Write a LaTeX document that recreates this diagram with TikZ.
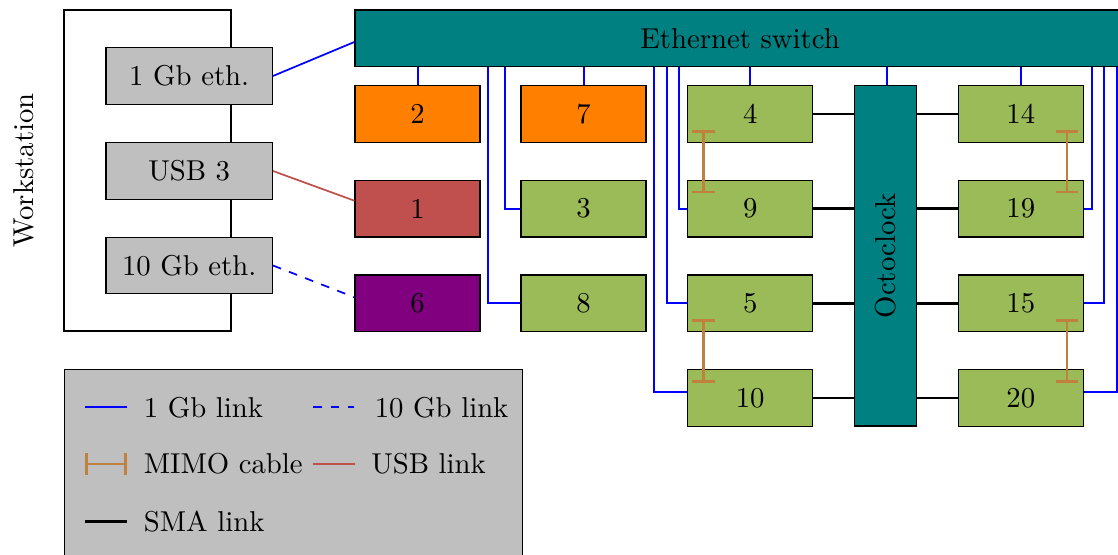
\documentclass[tikz,border=0pt]{standalone}
\usepackage{graphicx}
\usetikzlibrary{calc,arrows.meta}
\definecolor{devgreen}{RGB}{155,187,89}
\definecolor{usbred}{RGB}{192,80,77}
\definecolor{mimocol}{RGB}{192,128,64}
\definecolor{lgray}{RGB}{191,191,191}
\definecolor{devpurple}{RGB}{128,0,128}
\definecolor{devteal}{RGB}{0,128,128}
\definecolor{devorange}{RGB}{255,128,0}
\begin{document}
\begin{tikzpicture}[x=0.348pt,y=-0.348pt,
 box/.style={draw=black,line width=0.4pt,minimum width=43.5pt,minimum height=19.73pt,inner sep=0pt},
 dev/.style={box,fill=devgreen},
 port/.style={box,fill=lgray,minimum width=57.9pt},
 gb/.style={blue,line width=0.6pt},
 sma/.style={black,line width=0.9pt},
 usb/.style={usbred,line width=0.6pt},
 mimo/.style={mimocol,line width=0.9pt,{Bar[width=7.9pt]}-{Bar[width=7.9pt]}},
 legtext/.style={anchor=west,inner sep=0pt}
]
\useasboundingbox (0,0) rectangle (1118,555);
% workstation
\node[draw,line width=0.4pt,minimum width=58.1pt,minimum height=111.7pt,inner sep=0pt] (ws) at (147.5,170.5) {};
\node[rotate=90] (wslabel) at (24,170.5) {Workstation};
\node[port] (p1) at (189.2,76) {1 Gb eth.};
\node[port] (pu) at (189.2,171) {USB 3};
\node[port] (pt) at (189.2,265.5) {10 Gb eth.};
% switch
\node[box,fill=devteal,minimum width=268pt] (sw) at (740,38.3) {Ethernet switch};
% devices
\node[box,fill=devorange] (n2) at (417.5,114) {2};
\node[box,fill=devorange] (n7) at (583.5,114) {7};
\node[box,fill=usbred] (n1) at (417.5,208.7) {1};
\node[dev] (n3) at (583.5,208.7) {3};
\node[box,fill=devpurple] (n6) at (417.5,303.3) {6};
\node[dev] (n8) at (583.5,303.3) {8};
\node[dev] (n4) at (750.2,114) {4};
\node[dev] (n9) at (750.2,208.7) {9};
\node[dev] (n5) at (750.2,303.3) {5};
\node[dev] (n10) at (750.2,397.8) {10};
\node[dev] (n14) at (1020.8,114) {14};
\node[dev] (n19) at (1020.8,208.7) {19};
\node[dev] (n15) at (1020.8,303.3) {15};
\node[dev] (n20) at (1020.8,397.8) {20};
\node[box,fill=devteal,minimum width=21.7pt,minimum height=118.4pt] (oc) at (885.5,255.9) {\rotatebox{90}{Octoclock}};
% workstation links
\draw[gb] (p1.east) -- ($(sw.west)+(0,3.7)$);
\draw[usb] (pu.east) -- ($(n1.west)+(0,-8)$);
\draw[gb,dashed] (pt.east) -- ($(n6.west)+(0,-6)$);
% switch links
\coordinate (x2) at (418,0);
\coordinate (x7) at (584,0);
\coordinate (x8) at (488.3,0);
\coordinate (x3) at (504.7,0);
\coordinate (x10) at (654.3,0);
\coordinate (x5) at (666.7,0);
\coordinate (x9) at (679.3,0);
\coordinate (xoc) at (887.3,0);
\coordinate (x19) at (1091.7,0);
\coordinate (x15) at (1104,0);
\coordinate (x20) at (1116.7,0);
\draw[gb] (sw.south -| x2) -- (n2.north -| x2);
\draw[gb] (sw.south -| x7) -- (n7.north -| x7);
\draw[gb] (sw.south -| n4.north) -- (n4.north);
\draw[gb] (sw.south -| n14.north) -- (n14.north);
\draw[gb] (sw.south -| xoc) -- (oc.north -| xoc);
\draw[gb] (sw.south -| x8) |- (n8.west);
\draw[gb] (sw.south -| x3) |- (n3.west);
\draw[gb] (sw.south -| x10) |- ($(n10.west)+(0,-6)$);
\draw[gb] (sw.south -| x5) |- (n5.west);
\draw[gb] (sw.south -| x9) |- (n9.west);
\draw[gb] (sw.south -| x19) |- (n19.east);
\draw[gb] (sw.south -| x15) |- (n15.east);
\draw[gb] (sw.south -| x20) |- ($(n20.east)+(0,-6)$);
% SMA links
\foreach \n in {n4,n9,n5,n10}{\draw[sma] (\n.east) -- (\n.east -| oc.west);}
\foreach \n in {n14,n19,n15,n20}{\draw[sma] (\n.west -| oc.east) -- (\n.west);}
% MIMO cables
\draw[mimo] ($(n4.south west)+(16.6,-13)$) -- ($(n9.north west)+(16.6,13.7)$);
\draw[mimo] ($(n5.south west)+(16.6,-13)$) -- ($(n10.north west)+(16.6,13.7)$);
\draw[mimo] ($(n14.south east)+(-17,-13)$) -- ($(n19.north east)+(-17,13.7)$);
\draw[mimo] ($(n15.south east)+(-17,-13)$) -- ($(n20.north east)+(-17,13.7)$);
% legend
\node[draw,line width=0.4pt,fill=lgray,minimum width=159.3pt,minimum height=70pt,anchor=north west,inner sep=0pt] (leg) at (64,369) {};
\draw[gb] (85,407.3) -- (126.7,407.3);
\node[legtext] (l1) at (143.3,407.3) {1 Gb link};
\draw[gb,dashed] (313.3,407.3) -- (354,407.3);
\node[legtext] (l2) at (374.3,407.3) {10 Gb link};
\draw[mimo] (85,464) -- (126.7,464);
\node[legtext] (l3) at (143.3,464) {MIMO cable};
\draw[usb] (313.3,464) -- (355,464);
\node[legtext] (l4) at (370.7,464) {USB link};
\draw[sma] (85,521.7) -- (126.7,521.7);
\node[legtext] (l5) at (143.3,521.7) {SMA link};
\end{tikzpicture}
\end{document}
